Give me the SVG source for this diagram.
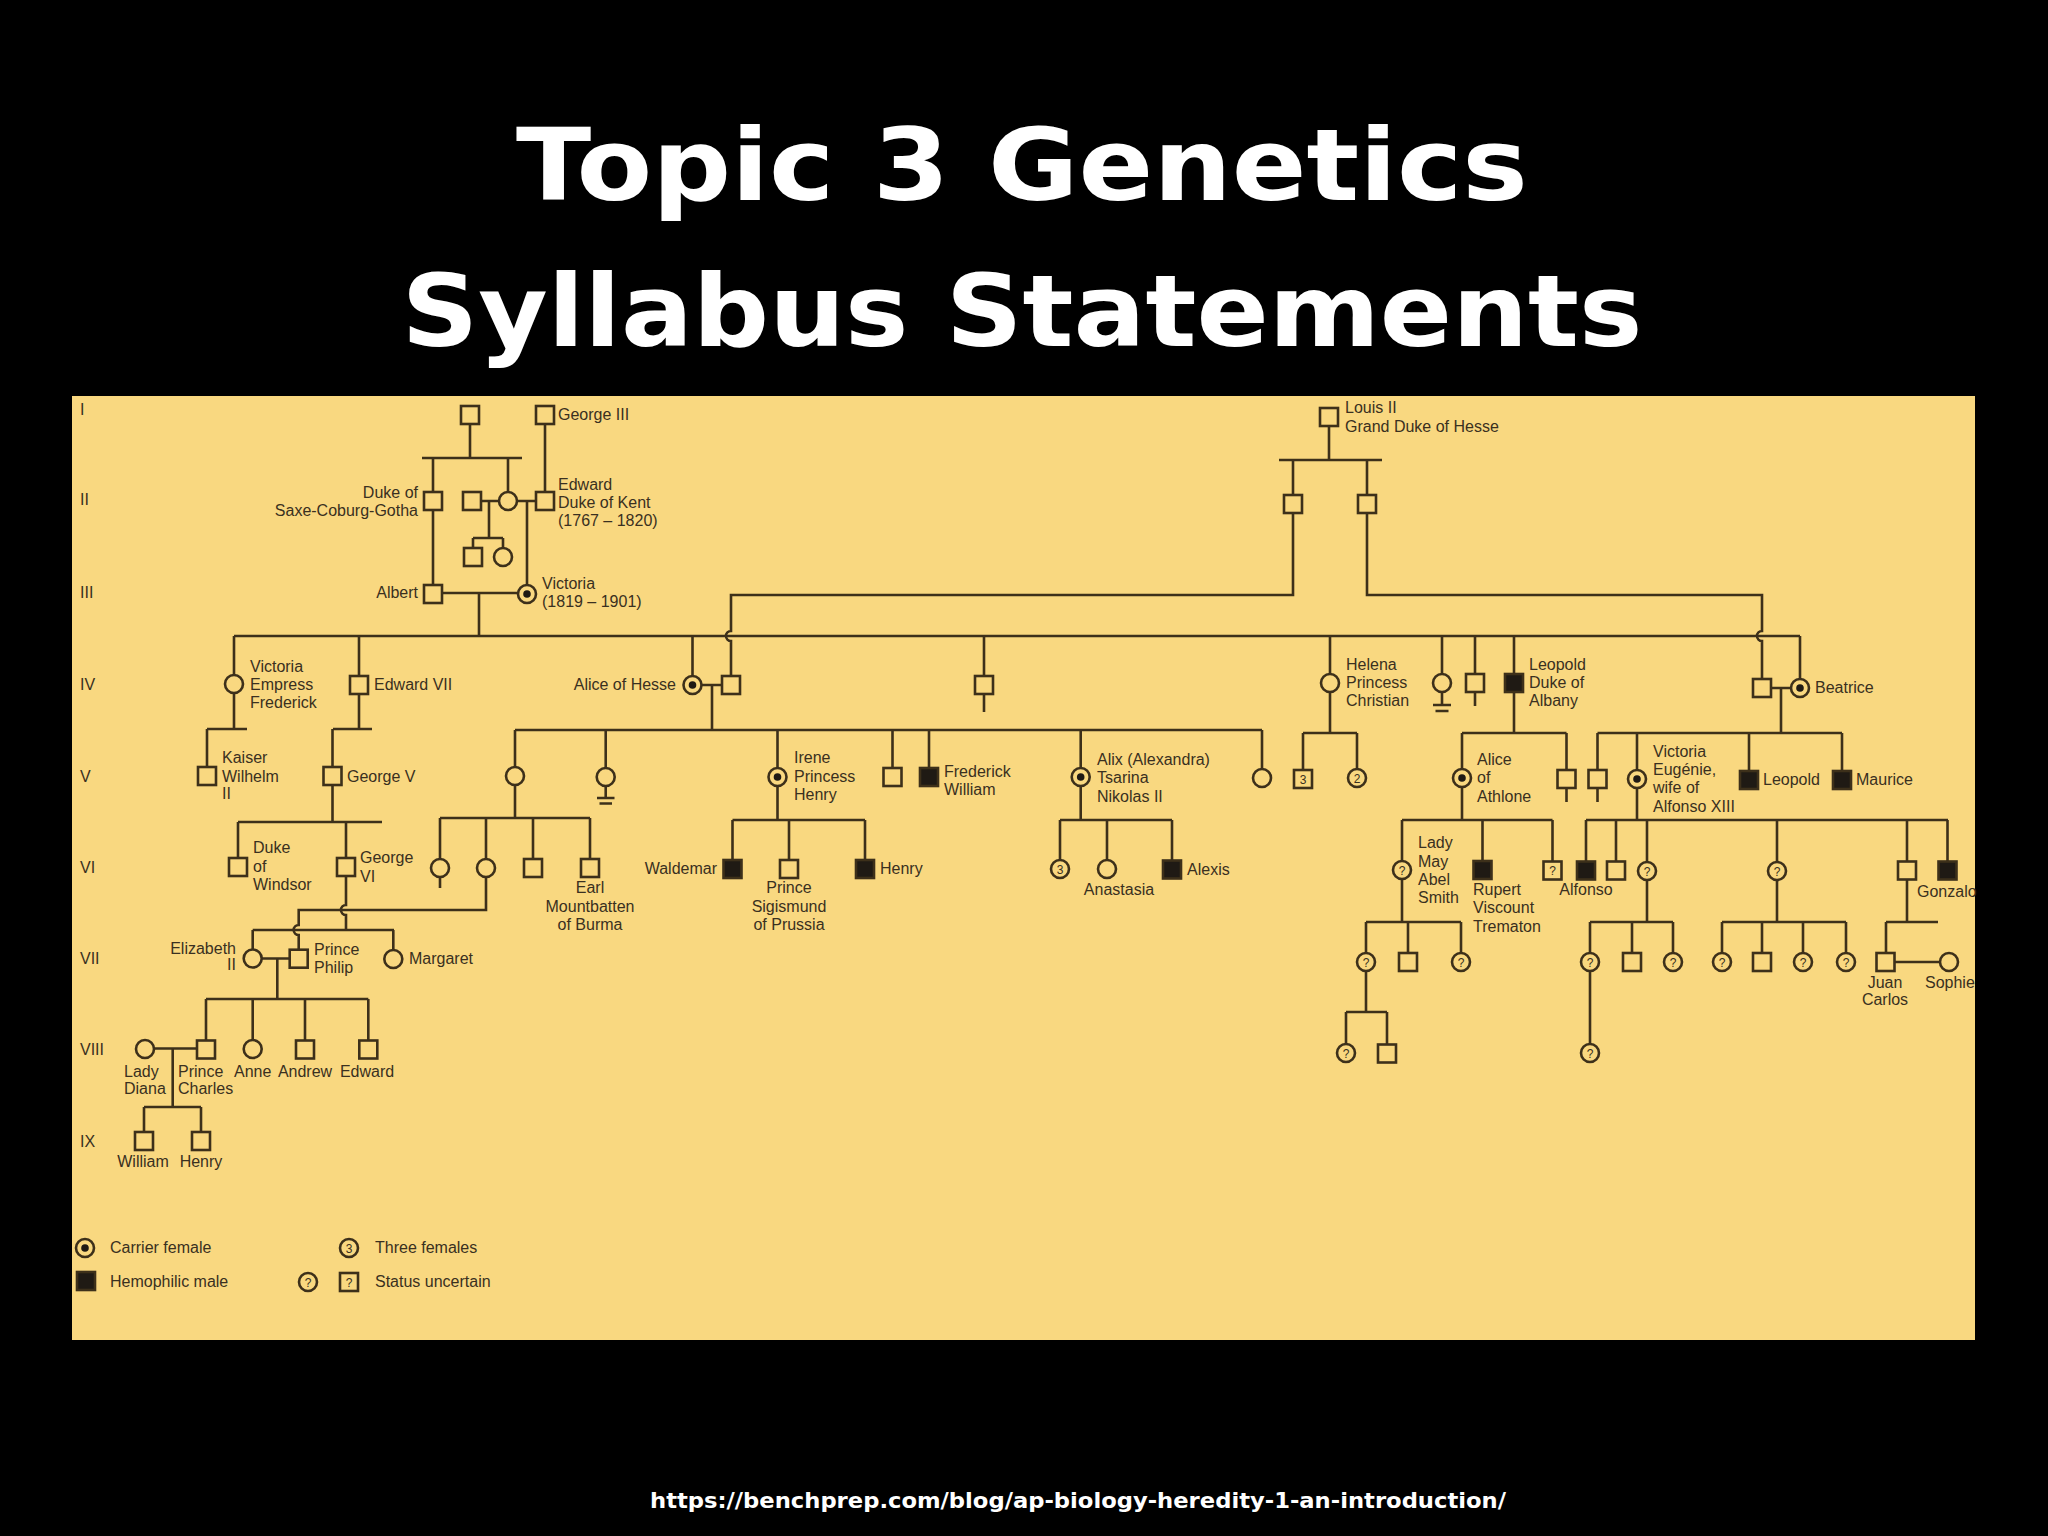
<svg xmlns="http://www.w3.org/2000/svg" width="2048" height="1536" viewBox="0 0 2048 1536">
<style>
.chart{fill:#F9D880}
#connectors path{stroke:#3d301a;stroke-width:2.6;fill:none}
.m{fill:#F9D880;stroke:#3d301a;stroke-width:2.6}
.a{fill:#1f1a14;stroke:#3d301a;stroke-width:2.6}
.dot{fill:#1f1a14}
.t{font-family:"Liberation Sans",Arial,sans-serif;font-size:16px;fill:#3a3020}
.e{text-anchor:end}
.mid{text-anchor:middle}
.q{font-family:"Liberation Sans",Arial,sans-serif;font-size:12px;fill:#3a3020;text-anchor:middle}
.title{font-family:"DejaVu Sans",sans-serif;font-weight:bold;font-size:100px;fill:#fff;text-anchor:middle}
.foot{font-family:"DejaVu Sans",sans-serif;font-weight:bold;font-size:22px;fill:#fff;text-anchor:middle}
</style>
<rect width="2048" height="1536" fill="#000"/>
<text class="title" x="1022" y="200" textLength="1012" lengthAdjust="spacingAndGlyphs">Topic 3 Genetics</text>
<text class="title" x="1022" y="346" textLength="1241" lengthAdjust="spacingAndGlyphs">Syllabus Statements</text>
<rect class="chart" x="72" y="396" width="1903" height="944"/>
<text class="foot" x="1078" y="1508" textLength="856" lengthAdjust="spacingAndGlyphs">https://benchprep.com/blog/ap-biology-heredity-1-an-introduction/</text>

<g id="generations" class="t">
<text x="80" y="415">I</text>
<text x="80" y="505">II</text>
<text x="80" y="598">III</text>
<text x="80" y="690">IV</text>
<text x="80" y="782">V</text>
<text x="80" y="873">VI</text>
<text x="80" y="964">VII</text>
<text x="80" y="1055">VIII</text>
<text x="80" y="1147">IX</text>
</g>

<g id="connectors">
<path d="M470 424V458M422 458H522M433 458V492M508 458V492"/>
<path d="M433 510V585"/>
<path d="M545 424V492"/>
<path d="M481 501H499M489 501V538M473 538H503M473 538V548M503 538V548"/>
<path d="M517 501H536M527 501V585"/>
<path d="M442 593H518M479 593V636"/>
<path d="M234 636H1800"/>
<path d="M234 636V675M359 636V676M692.5 636V676M984 636V676M1330 636V674M1442 636V674M1475 636V674M1514 636V674M1800 636V679"/>
<path d="M1329 426V460M1279 460H1382M1293 460V495M1367 460V495"/>
<path d="M1293 513V595H731V631A5 5 0 0 0 731 641V676"/>
<path d="M1367 513V595H1762V631A5 5 0 0 0 1762 641V679"/>
<path d="M234 693V729M207 729H247M207 729V767"/>
<path d="M359 694V729M333 729H372M332.5 729V767"/>
<path d="M332.5 785V822M238 822H382M238 822V858M346 822V858"/>
<path d="M346 876V905A5 5 0 0 0 346 915V930M252.7 930H394M252.7 930V949.5M393.3 930V950"/>
<path d="M486 877V910H298.7V925A5 5 0 0 0 298.7 935V949.7"/>
<path d="M262 958.5H289.7M277.3 958.5V999M206 999H368.3M206 999V1040.5M252.7 999V1040M305 999V1040.5M368.3 999V1040.5"/>
<path d="M154 1048.5H197M172.7 1048.5V1107M144 1107H201M144 1107V1132M201 1107V1132"/>
<path d="M701.5 685H722M712 685V730M515 730H1262M515 730V767M605.7 730V768M777.5 730V768M892.5 730V768M929 730V768M1080.7 730V768M1262 730V769"/>
<path d="M605.7 786V798M597 798H614.5M599.5 803.5H612"/>
<path d="M515 785V818M440 818H590M440 818V859M486 818V859M533 818V859M590 818V859M440 877V888"/>
<path d="M777.5 786V820M732.5 820H865M732.5 820V860M789 820V860M865 820V860"/>
<path d="M1080.7 786V820M1060 820H1172M1060 820V860M1107 820V860M1172 820V860.5"/>
<path d="M1330 692V733M1303 733H1357M1303 733V770M1357 733V769"/>
<path d="M1442 692V705M1433 705H1451M1435.5 711H1448.5"/>
<path d="M1475 692V706"/>
<path d="M984 694V712"/>
<path d="M1514 692V733M1462 733H1566.5M1462 733V769M1566.5 733V770M1566.5 788V802"/>
<path d="M1462 787V820M1402 820H1552.5M1402 820V861M1482.5 820V861M1552.5 820V861.5"/>
<path d="M1402 879V922M1366 922H1461M1366 922V953M1408 922V953M1461 922V953"/>
<path d="M1366 971V1012M1346 1012H1387M1346 1012V1044M1387 1012V1044.5"/>
<path d="M1771.5 688H1791M1781 688V733M1597.5 733H1842M1597.5 733V770M1637 733V770M1749 733V771M1842 733V771M1597.5 788V802"/>
<path d="M1637 788V820M1586 820H1948M1586 820V861.5M1616 820V861.5M1647 820V862M1777 820V862M1907 820V861.5M1947.5 820V861.5"/>
<path d="M1647 880V922M1590 922H1673M1590 922V953M1632 922V953M1673 922V953M1590 971V1044"/>
<path d="M1777 880V922M1722 922H1846M1722 922V953M1762 922V953M1803 922V953M1846 922V953"/>
<path d="M1907 879.5V922M1886 922H1938M1886 922V953"/>
<path d="M1894.5 962H1940"/>
</g>

<!-- Generation I -->
<g id="n_I_1"><rect class="m" x="461" y="406" width="18" height="18"/></g>
<g id="n_george3"><rect class="m" x="536" y="406" width="18" height="18"/><text class="t" x="558" y="420">George III</text></g>
<g id="n_louis2"><rect class="m" x="1320" y="408" width="18" height="18"/><text class="t" x="1345" y="413">Louis II</text><text class="t" x="1345" y="432">Grand Duke of Hesse</text></g>

<!-- Generation II -->
<g id="n_duke_scg"><rect class="m" x="424" y="492" width="18" height="18"/><text class="t e" x="418" y="498">Duke of</text><text class="t e" x="418" y="516">Saxe-Coburg-Gotha</text></g>
<g id="n_II_m1"><rect class="m" x="463" y="492" width="18" height="18"/></g>
<g id="n_II_f1"><circle class="m" cx="508" cy="501" r="9"/></g>
<g id="n_edward_kent"><rect class="m" x="536" y="492" width="18" height="18"/><text class="t" x="558" y="490">Edward</text><text class="t" x="558" y="508">Duke of Kent</text><text class="t" x="558" y="526">(1767 – 1820)</text></g>
<g id="n_II_c1"><rect class="m" x="464" y="548" width="18" height="18"/></g>
<g id="n_II_c2"><circle class="m" cx="503" cy="557" r="9"/></g>
<g id="n_hesse_s1"><rect class="m" x="1284" y="495" width="18" height="18"/></g>
<g id="n_hesse_s2"><rect class="m" x="1358" y="495" width="18" height="18"/></g>

<!-- Generation III -->
<g id="n_albert"><rect class="m" x="424" y="585" width="18" height="18"/><text class="t e" x="418" y="598">Albert</text></g>
<g id="n_victoria"><circle class="m" cx="527" cy="594" r="9"/><circle class="dot" cx="527" cy="594" r="3.8"/><text class="t" x="542" y="589">Victoria</text><text class="t" x="542" y="607">(1819 – 1901)</text></g>

<!-- Generation IV -->
<g id="n_vic_empress"><circle class="m" cx="234" cy="684" r="9"/><text class="t" x="250" y="672">Victoria</text><text class="t" x="250" y="690">Empress</text><text class="t" x="250" y="708">Frederick</text></g>
<g id="n_edward7"><rect class="m" x="350" y="676" width="18" height="18"/><text class="t" x="374" y="690">Edward VII</text></g>
<g id="n_alice_hesse"><circle class="m" cx="692.5" cy="685" r="9"/><circle class="dot" cx="692.5" cy="685" r="3.8"/><text class="t e" x="676" y="690">Alice of Hesse</text></g>
<g id="n_louis4"><rect class="m" x="722" y="676" width="18" height="18"/></g>
<g id="n_IV_sq1"><rect class="m" x="975" y="676" width="18" height="18"/></g>
<g id="n_helena"><circle class="m" cx="1330" cy="683" r="9"/><text class="t" x="1346" y="670">Helena</text><text class="t" x="1346" y="688">Princess</text><text class="t" x="1346" y="706">Christian</text></g>
<g id="n_IV_f2"><circle class="m" cx="1442" cy="683" r="9"/></g>
<g id="n_IV_sq2"><rect class="m" x="1466" y="674" width="18" height="18"/></g>
<g id="n_leopold"><rect class="a" x="1505" y="674" width="18" height="18"/><text class="t" x="1529" y="670">Leopold</text><text class="t" x="1529" y="688">Duke of</text><text class="t" x="1529" y="706">Albany</text></g>
<g id="n_henry_batt"><rect class="m" x="1753" y="679" width="18" height="18"/></g>
<g id="n_beatrice"><circle class="m" cx="1800" cy="688" r="9"/><circle class="dot" cx="1800" cy="688" r="3.8"/><text class="t" x="1815" y="693">Beatrice</text></g>

<!-- Generation V -->
<g id="n_kaiser"><rect class="m" x="198" y="767" width="18" height="18"/><text class="t" x="222" y="763">Kaiser</text><text class="t" x="222" y="782">Wilhelm</text><text class="t" x="222" y="799">II</text></g>
<g id="n_george5"><rect class="m" x="323.5" y="767" width="18" height="18"/><text class="t" x="347" y="782">George V</text></g>
<g id="n_vic_hesse"><circle class="m" cx="515" cy="776" r="9"/></g>
<g id="n_ella"><circle class="m" cx="605.7" cy="777" r="9"/></g>
<g id="n_irene"><circle class="m" cx="777.5" cy="777" r="9"/><circle class="dot" cx="777.5" cy="777" r="3.8"/><text class="t" x="794" y="763">Irene</text><text class="t" x="794" y="782">Princess</text><text class="t" x="794" y="800">Henry</text></g>
<g id="n_V_sq1"><rect class="m" x="883.5" y="768" width="18" height="18"/></g>
<g id="n_frederick_william"><rect class="a" x="920" y="768" width="18" height="18"/><text class="t" x="944" y="777">Frederick</text><text class="t" x="944" y="795">William</text></g>
<g id="n_alix"><circle class="m" cx="1080.7" cy="777" r="9"/><circle class="dot" cx="1080.7" cy="777" r="3.8"/><text class="t" x="1097" y="765">Alix (Alexandra)</text><text class="t" x="1097" y="783">Tsarina</text><text class="t" x="1097" y="802">Nikolas II</text></g>
<g id="n_V_f1"><circle class="m" cx="1262" cy="778" r="9"/></g>
<g id="n_V_three"><rect class="m" x="1294" y="770" width="18" height="18"/><text class="q" x="1303" y="783.5">3</text></g>
<g id="n_V_two"><circle class="m" cx="1357" cy="778" r="9"/><text class="q" x="1357" y="782.5">2</text></g>
<g id="n_alice_athlone"><circle class="m" cx="1462" cy="778" r="9"/><circle class="dot" cx="1462" cy="778" r="3.8"/><text class="t" x="1477" y="765">Alice</text><text class="t" x="1477" y="783">of</text><text class="t" x="1477" y="802">Athlone</text></g>
<g id="n_V_sq2"><rect class="m" x="1557.5" y="770" width="18" height="18"/></g>
<g id="n_V_sq3"><rect class="m" x="1588.5" y="770" width="18" height="18"/></g>
<g id="n_vic_eugenie"><circle class="m" cx="1637" cy="779" r="9"/><circle class="dot" cx="1637" cy="779" r="3.8"/><text class="t" x="1653" y="757">Victoria</text><text class="t" x="1653" y="775">Eugénie,</text><text class="t" x="1653" y="793">wife of</text><text class="t" x="1653" y="812">Alfonso XIII</text></g>
<g id="n_leopold_b"><rect class="a" x="1740" y="771" width="18" height="18"/><text class="t" x="1763" y="785">Leopold</text></g>
<g id="n_maurice"><rect class="a" x="1833" y="771" width="18" height="18"/><text class="t" x="1856" y="785">Maurice</text></g>

<!-- Generation VI -->
<g id="n_windsor"><rect class="m" x="229" y="858" width="18" height="18"/><text class="t" x="253" y="853">Duke</text><text class="t" x="253" y="872">of</text><text class="t" x="253" y="890">Windsor</text></g>
<g id="n_george6"><rect class="m" x="337" y="858" width="18" height="18"/><text class="t" x="360" y="863">George</text><text class="t" x="360" y="882">VI</text></g>
<g id="n_VI_f1"><circle class="m" cx="440" cy="868" r="9"/></g>
<g id="n_alice_batt"><circle class="m" cx="486" cy="868" r="9"/></g>
<g id="n_VI_sq1"><rect class="m" x="524" y="859" width="18" height="18"/></g>
<g id="n_mountbatten"><rect class="m" x="581" y="859" width="18" height="18"/><text class="t mid" x="590" y="893">Earl</text><text class="t mid" x="590" y="912">Mountbatten</text><text class="t mid" x="590" y="930">of Burma</text></g>
<g id="n_waldemar"><rect class="a" x="723.5" y="860" width="18" height="18"/><text class="t e" x="717" y="874">Waldemar</text></g>
<g id="n_sigismund"><rect class="m" x="780" y="860" width="18" height="18"/><text class="t mid" x="789" y="893">Prince</text><text class="t mid" x="789" y="912">Sigismund</text><text class="t mid" x="789" y="930">of Prussia</text></g>
<g id="n_henry_p"><rect class="a" x="856" y="860" width="18" height="18"/><text class="t" x="880" y="874">Henry</text></g>
<g id="n_VI_three"><circle class="m" cx="1060" cy="869" r="9"/><text class="q" x="1060" y="873.5">3</text></g>
<g id="n_anastasia"><circle class="m" cx="1107" cy="869" r="9"/><text class="t mid" x="1119" y="895">Anastasia</text></g>
<g id="n_alexis"><rect class="a" x="1163" y="860.5" width="18" height="18"/><text class="t" x="1187" y="875">Alexis</text></g>
<g id="n_lady_may"><circle class="m" cx="1402" cy="870" r="9"/><text class="q" x="1402" y="874.5">?</text><text class="t" x="1418" y="848">Lady</text><text class="t" x="1418" y="867">May</text><text class="t" x="1418" y="885">Abel</text><text class="t" x="1418" y="903">Smith</text></g>
<g id="n_rupert"><rect class="a" x="1473.5" y="861" width="18" height="18"/><text class="t" x="1473" y="895">Rupert</text><text class="t" x="1473" y="913">Viscount</text><text class="t" x="1473" y="932">Trematon</text></g>
<g id="n_VI_q_sq"><rect class="m" x="1543.5" y="861.5" width="18" height="18"/><text class="q" x="1552.5" y="875">?</text></g>
<g id="n_alfonso"><rect class="a" x="1577" y="861.5" width="18" height="18"/><text class="t mid" x="1586" y="895">Alfonso</text></g>
<g id="n_VI_sq2"><rect class="m" x="1607" y="861.5" width="18" height="18"/></g>
<g id="n_VI_q1"><circle class="m" cx="1647" cy="871" r="9"/><text class="q" x="1647" y="875.5">?</text></g>
<g id="n_VI_q2"><circle class="m" cx="1777" cy="871" r="9"/><text class="q" x="1777" y="875.5">?</text></g>
<g id="n_VI_sq3"><rect class="m" x="1898" y="861.5" width="18" height="18"/></g>
<g id="n_gonzalo"><rect class="a" x="1938.5" y="861.5" width="18" height="18"/><text class="t" x="1917" y="897">Gonzalo</text></g>

<!-- Generation VII -->
<g id="n_elizabeth2"><circle class="m" cx="252.7" cy="958.5" r="9"/><text class="t e" x="236" y="954">Elizabeth</text><text class="t e" x="236" y="970">II</text></g>
<g id="n_philip"><rect class="m" x="289.7" y="949.7" width="18" height="18"/><text class="t" x="314" y="955">Prince</text><text class="t" x="314" y="973">Philip</text></g>
<g id="n_margaret"><circle class="m" cx="393.3" cy="959" r="9"/><text class="t" x="409" y="964">Margaret</text></g>
<g id="n_VII_q1"><circle class="m" cx="1366" cy="962" r="9"/><text class="q" x="1366" y="966.5">?</text></g>
<g id="n_VII_sq1"><rect class="m" x="1399" y="953" width="18" height="18"/></g>
<g id="n_VII_q2"><circle class="m" cx="1461" cy="962" r="9"/><text class="q" x="1461" y="966.5">?</text></g>
<g id="n_VII_q3"><circle class="m" cx="1590" cy="962" r="9"/><text class="q" x="1590" y="966.5">?</text></g>
<g id="n_VII_sq2"><rect class="m" x="1623" y="953" width="18" height="18"/></g>
<g id="n_VII_q4"><circle class="m" cx="1673" cy="962" r="9"/><text class="q" x="1673" y="966.5">?</text></g>
<g id="n_VII_q5"><circle class="m" cx="1722" cy="962" r="9"/><text class="q" x="1722" y="966.5">?</text></g>
<g id="n_VII_sq3"><rect class="m" x="1753" y="953" width="18" height="18"/></g>
<g id="n_VII_q6"><circle class="m" cx="1803" cy="962" r="9"/><text class="q" x="1803" y="966.5">?</text></g>
<g id="n_VII_q7"><circle class="m" cx="1846" cy="962" r="9"/><text class="q" x="1846" y="966.5">?</text></g>
<g id="n_juan_carlos"><rect class="m" x="1876.5" y="953" width="18" height="18"/><text class="t mid" x="1885" y="988">Juan</text><text class="t mid" x="1885" y="1005">Carlos</text></g>
<g id="n_sophie"><circle class="m" cx="1949" cy="962" r="9"/><text class="t" x="1925" y="988">Sophie</text></g>

<!-- Generation VIII -->
<g id="n_diana"><circle class="m" cx="145" cy="1049" r="9"/><text class="t" x="124" y="1077">Lady</text><text class="t" x="124" y="1094">Diana</text></g>
<g id="n_charles"><rect class="m" x="197" y="1040.5" width="18" height="18"/><text class="t" x="178" y="1077">Prince</text><text class="t" x="178" y="1094">Charles</text></g>
<g id="n_anne"><circle class="m" cx="252.7" cy="1049" r="9"/><text class="t mid" x="252.7" y="1077">Anne</text></g>
<g id="n_andrew"><rect class="m" x="296" y="1040.5" width="18" height="18"/><text class="t mid" x="305" y="1077">Andrew</text></g>
<g id="n_edward"><rect class="m" x="359.3" y="1040.5" width="18" height="18"/><text class="t mid" x="367" y="1077">Edward</text></g>
<g id="n_VIII_q1"><circle class="m" cx="1346" cy="1053" r="9"/><text class="q" x="1346" y="1057.5">?</text></g>
<g id="n_VIII_sq1"><rect class="m" x="1378" y="1044.5" width="18" height="18"/></g>
<g id="n_VIII_q2"><circle class="m" cx="1590" cy="1053" r="9"/><text class="q" x="1590" y="1057.5">?</text></g>

<!-- Generation IX -->
<g id="n_william"><rect class="m" x="135" y="1132" width="18" height="18"/><text class="t mid" x="143" y="1167">William</text></g>
<g id="n_henry"><rect class="m" x="192" y="1132" width="18" height="18"/><text class="t mid" x="201" y="1167">Henry</text></g>

<!-- Legend -->
<g id="legend">
<circle class="m" cx="85" cy="1248" r="9"/><circle class="dot" cx="85" cy="1248" r="3.8"/>
<text class="t" x="110" y="1253">Carrier female</text>
<rect class="a" x="77" y="1272" width="18" height="18"/>
<text class="t" x="110" y="1287">Hemophilic male</text>
<circle class="m" cx="349" cy="1248" r="9"/><text class="q" x="349" y="1252.5">3</text>
<text class="t" x="375" y="1253">Three females</text>
<circle class="m" cx="308" cy="1282" r="9"/><text class="q" x="308" y="1286.5">?</text>
<rect class="m" x="340" y="1273" width="18" height="18"/><text class="q" x="349" y="1286.5">?</text>
<text class="t" x="375" y="1287">Status uncertain</text>
</g>
</svg>
